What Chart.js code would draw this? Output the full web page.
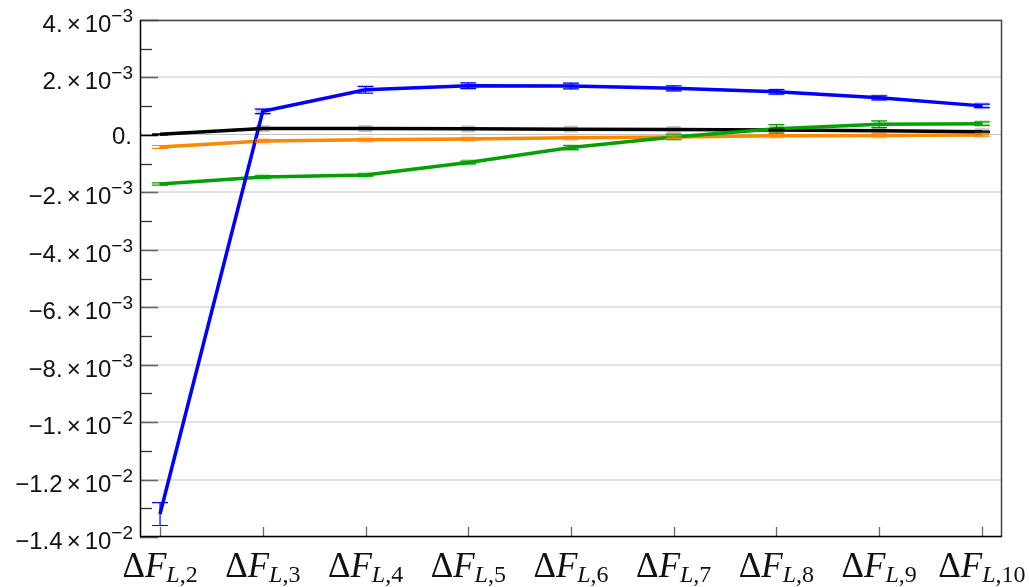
<!DOCTYPE html>
<html>
<head>
<meta charset="utf-8">
<script src="https://cdn.jsdelivr.net/npm/chart.js@4"></script>
<style>
  body { margin: 0; background: #fff; }
  #wrap { width: 1029px; height: 587px; }
</style>
</head>
<body>
<div id="wrap"><canvas id="chart" width="1029" height="587"></canvas></div>
<script>
// categories: Delta F_{L,n}
var categories = [2, 3, 4, 5, 6, 7, 8, 9, 10];
var yTicks = [0.004, 0.002, 0, -0.002, -0.004, -0.006, -0.008, -0.010, -0.012, -0.014];

// values
var blueVals   = [-0.0132, 0.00082, 0.00157, 0.00171, 0.00170, 0.00162, 0.00150, 0.00129, 0.00101];
var blackVals  = [0.00002, 0.00022, 0.00022, 0.00021, 0.00020, 0.00019, 0.00017, 0.00014, 0.00011];
var orangeVals = [-0.00042, -0.00021, -0.00017, -0.00014, -0.00010, -0.00007, -0.00003, -0.00002, 0.00000];
var greenVals  = [-0.00171, -0.00147, -0.00140, -0.00096, -0.00044, -0.00007, 0.00021, 0.00037, 0.00039];

// error half-widths
var blueErr   = [0.0004, 0.00008, 0.00012, 0.0001, 0.0001, 0.00009, 0.00008, 0.00007, 0.00006];
var blackErr  = [0.00002, 0.00002, 0.00002, 0.00002, 0.00002, 0.00002, 0.00002, 0.00002, 0.00002];
var orangeErr = [0.00005, 0.00004, 0.00004, 0.00004, 0.00004, 0.00004, 0.00004, 0.00004, 0.00004];
var greenErr  = [0.00004, 0.00004, 0.00004, 0.00005, 0.00007, 0.00010, 0.00015, 0.00012, 0.00006];

function pts(vals) {
  return categories.map(function (c, i) { return { x: c, y: vals[i] }; });
}

function mkSet(label, vals, err, color, order) {
  return {
    label: label,
    data: pts(vals),
    err: err,
    borderColor: color,
    backgroundColor: color,
    borderWidth: 3.5,
    pointRadius: 0,
    tension: 0,
    order: order
  };
}

var MINUS = '\u2212';

function mantissaLabel(v) {
  if (v === 0) return { main: '0.', sup: null };
  var e = Math.floor(Math.log10(Math.abs(v)) + 1e-9);
  var m = Math.round(v / Math.pow(10, e) * 10) / 10;
  var ms = Math.abs(m) % 1 === 0 ? Math.abs(m) + '.' : String(Math.abs(m));
  return { main: (m < 0 ? MINUS : '') + ms, sup: MINUS + Math.abs(e) };
}

var mmaPlugin = {
  id: 'mma',
  afterDatasetsDraw: function (chart) {
    var ctx = chart.ctx, xs = chart.scales.x, ys = chart.scales.y;
    chart.data.datasets.forEach(function (ds) {
      ctx.save();
      ctx.strokeStyle = ds.borderColor;
      ctx.lineWidth = 1.2;
      ds.data.forEach(function (p, i) {
        var px = xs.getPixelForValue(p.x);
        var py = ys.getPixelForValue(p.y);
        var top = ys.getPixelForValue(p.y + ds.err[i]);
        var bot = ys.getPixelForValue(p.y - ds.err[i]);
        if (i > 0) {
          ctx.globalAlpha = 0.22;
          ctx.fillStyle = ds.borderColor;
          ctx.fillRect(px - 7, py - 3.5, 14, 7);
        }
        ctx.globalAlpha = 1;
        ctx.beginPath();
        ctx.moveTo(px, top); ctx.lineTo(px, bot);
        ctx.moveTo(px - 8, top); ctx.lineTo(px + 8, top);
        ctx.moveTo(px - 8, bot); ctx.lineTo(px + 8, bot);
        ctx.stroke();
      });
      ctx.restore();
    });
  },
  afterDraw: function (chart) {
    var ctx = chart.ctx, xs = chart.scales.x, ys = chart.scales.y;
    var a = chart.chartArea;
    ctx.save();

    // minor y ticks
    ctx.strokeStyle = '#333';
    ctx.lineWidth = 1.3;
    for (var k = -13; k <= 3; k += 2) {
      var yy = Math.round(ys.getPixelForValue(k * 0.001)) + 0.5;
      ctx.beginPath(); ctx.moveTo(a.left, yy); ctx.lineTo(a.left + 12, yy); ctx.stroke();
    }
    // major y ticks
    ctx.lineWidth = 1.6;
    yTicks.forEach(function (v) {
      var yy = Math.round(ys.getPixelForValue(v)) + 0.5;
      ctx.strokeStyle = v === 0 ? '#000' : '#666';
      ctx.beginPath(); ctx.moveTo(a.left, yy); ctx.lineTo(a.left + 18, yy); ctx.stroke();
    });
    // x ticks
    ctx.strokeStyle = '#666';
    ctx.lineWidth = 1.3;
    categories.forEach(function (c) {
      var xx = Math.round(xs.getPixelForValue(c)) + 0.5;
      ctx.beginPath(); ctx.moveTo(xx, a.bottom); ctx.lineTo(xx, a.bottom - 10); ctx.stroke();
    });

    // frame
    ctx.lineWidth = 1.5;
    ctx.strokeStyle = '#444';
    ctx.beginPath();
    ctx.moveTo(a.left, a.top + 0.5); ctx.lineTo(a.right, a.top + 0.5);
    ctx.moveTo(a.right - 0.5, a.top); ctx.lineTo(a.right - 0.5, a.bottom);
    ctx.stroke();
    ctx.strokeStyle = '#000';
    ctx.beginPath();
    ctx.moveTo(a.left + 0.5, a.top); ctx.lineTo(a.left + 0.5, a.bottom);
    ctx.moveTo(a.left, a.bottom - 0.5); ctx.lineTo(a.right, a.bottom - 0.5);
    ctx.stroke();

    // y labels
    ctx.fillStyle = '#111';
    ctx.textBaseline = 'alphabetic';
    ctx.textAlign = 'left';
    var mainFont = '24px "Liberation Sans", Arial, sans-serif';
    var supFont = '19px "Liberation Sans", Arial, sans-serif';
    yTicks.forEach(function (v) {
      var yy = ys.getPixelForValue(v);
      var lab = mantissaLabel(v);
      var right = a.left - 7;
      if (!lab.sup) {
        ctx.font = mainFont;
        var w0 = ctx.measureText(lab.main).width;
        ctx.fillText(lab.main, right - w0 - 1, yy + 9);
        return;
      }
      ctx.font = mainFont;
      var wm = ctx.measureText(lab.main).width;
      var wx = ctx.measureText('\u00d7').width;
      var wt = ctx.measureText('10').width;
      ctx.font = supFont;
      var ws = ctx.measureText(lab.sup).width;
      var total = wm + 4 + wx + 4 + wt + ws;
      var x0 = right - total;
      var base = yy + 12;
      ctx.font = mainFont;
      ctx.fillText(lab.main, x0, base);
      ctx.fillText('\u00d7', x0 + wm + 4, base);
      ctx.fillText('10', x0 + wm + 4 + wx + 4, base);
      ctx.font = supFont;
      ctx.fillText(lab.sup, x0 + wm + 4 + wx + 4 + wt, base - 10);
    });

    // x labels: Delta F_{L,n}
    var fDelta = '35px "Liberation Serif", "Times New Roman", serif';
    var fF = 'italic 35px "Liberation Serif", "Times New Roman", serif';
    var fL = 'italic 24px "Liberation Serif", "Times New Roman", serif';
    var fN = '24px "Liberation Serif", "Times New Roman", serif';
    categories.forEach(function (c) {
      var xx = xs.getPixelForValue(c);
      var parts = [
        { t: '\u0394', f: fDelta, dy: 0 },
        { t: 'F', f: fF, dy: 0 },
        { t: 'L', f: fL, dy: 5 },
        { t: ',' + c, f: fN, dy: 5 }
      ];
      var total = 0;
      parts.forEach(function (p) { ctx.font = p.f; p.w = ctx.measureText(p.t).width; total += p.w; });
      var x0 = xx - total / 2;
      parts.forEach(function (p) {
        ctx.font = p.f;
        ctx.fillText(p.t, x0, a.bottom + 40 + p.dy);
        x0 += p.w;
      });
    });
    ctx.restore();
  }
};

var data = {
  datasets: [
    mkSet('blue', blueVals, blueErr, '#0000ff', 0),
    mkSet('green', greenVals, greenErr, '#00a000', 1),
    mkSet('black', blackVals, blackErr, '#000000', 2),
    mkSet('orange', orangeVals, orangeErr, '#ff8800', 3)
  ]
};

var options = {
  responsive: false,
  animation: false,
  layout: { padding: { left: 140, right: 27, top: 20, bottom: 50 } },
  scales: {
    x: {
      type: 'linear',
      min: 1.805,
      max: 10.195,
      display: false
    },
    y: {
      type: 'linear',
      min: -0.014,
      max: 0.004,
      border: { display: false },
      ticks: { display: false, stepSize: 0.002 },
      grid: {
        drawTicks: false,
        color: function (c) { return c.tick && c.tick.value === 0 ? '#c4c4c4' : '#e2e2e2'; },
        lineWidth: function (c) { return c.tick && c.tick.value === 0 ? 1 : 2; }
      }
    }
  },
  plugins: {
    legend: { display: false },
    tooltip: { enabled: false }
  }
};

var ctx = document.getElementById('chart').getContext('2d');
var myChart = new Chart(ctx, {
  type: 'line',
  data: data,
  options: options,
  plugins: [mmaPlugin]
});
</script>
</body>
</html>
